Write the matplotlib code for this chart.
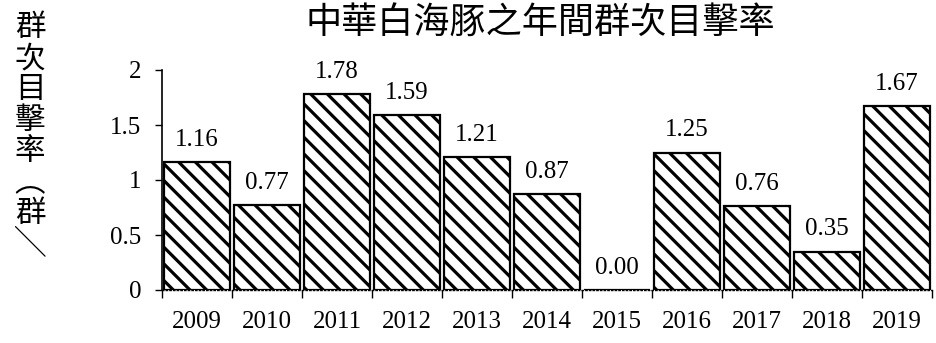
import matplotlib
matplotlib.use("Agg")
import matplotlib.pyplot as plt

years = ["2009", "2010", "2011", "2012", "2013", "2014", "2015", "2016", "2017", "2018", "2019"]
rates = [1.16, 0.77, 1.78, 1.59, 1.21, 0.87, 0.00, 1.25, 0.76, 0.35, 1.67]
title = "中華白海豚之年間群次目擊率"
ylabel_chars = ["群", "次", "目", "擊", "率", "︵", "群", "╲"]
yticks = [0, 0.5, 1, 1.5, 2]
ytick_labels = ["0", "0.5", "1", "1.5", "2"]

plt.rcParams["hatch.linewidth"] = 2.3
plt.rcParams["hatch.color"] = "black"
serif = ["Liberation Serif", "DejaVu Serif"]
cjk = ["Noto Sans CJK TC", "DejaVu Sans"]

fig = plt.figure(figsize=(9.36, 3.43), dpi=100)
ax = fig.add_axes([162 / 936, 1 - 290 / 343, (932 - 162) / 936, (290 - 70) / 343])

x = list(range(len(years)))
bars = ax.bar(x, rates, width=0.93, color="white", edgecolor="black",
              linewidth=1.6, hatch="\\\\")

for xi, v in zip(x, rates):
    ax.annotate(f"{v:.2f}", (xi, v), xytext=(0, 8), textcoords="offset points",
                ha="center", va="bottom", fontsize=18, family=serif,
                annotation_clip=False)

ax.set_xlim(-0.5, len(years) - 0.5)
ax.set_ylim(0, 2)
ax.set_yticks(yticks)
ax.set_yticklabels(ytick_labels, family=serif, fontsize=18)
ax.set_xticks(x)
ax.set_xticklabels(years, family=serif, fontsize=18)
ax.set_xticks([i - 0.5 for i in range(len(years) + 1)], minor=True)
ax.tick_params(axis="x", which="major", length=0, pad=15)
ax.tick_params(axis="x", which="minor", length=6, width=1, direction="out")
ax.tick_params(axis="y", which="major", length=5, width=1, direction="out", pad=10)

for s in ["top", "right"]:
    ax.spines[s].set_visible(False)
ax.spines["left"].set_linewidth(1.2)
ax.spines["bottom"].set_linewidth(1.0)
ax.spines["bottom"].set_linestyle(":")

fig.text(540 / 936, 1 - 24 / 343, title, ha="center", va="center",
         fontsize=26, family=cjk)

fig.text(30 / 936, 1 - 12 / 343, "\n".join(ylabel_chars), ha="center", va="top",
         fontsize=22, family=cjk, linespacing=1.0, multialignment="center")

fig.savefig("out.png", dpi=100)
